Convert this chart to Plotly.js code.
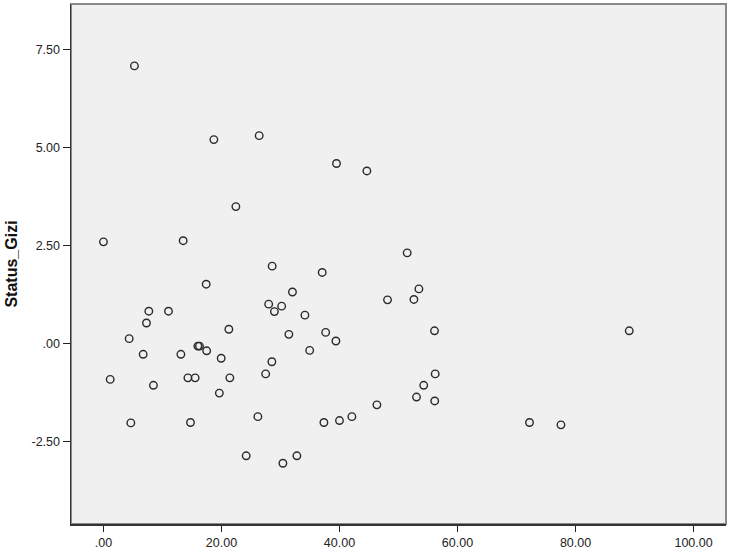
<!DOCTYPE html>
<html>
<head>
<meta charset="utf-8">
<script src="https://cdn.plot.ly/plotly-3.0.1.min.js"></script>
<style>html,body{margin:0;padding:0;background:#fff;}#chart{width:735px;height:552px;}</style>
</head>
<body>
<div id="chart"></div>
<script>
// X values (unnamed predictor, 0-100 scale)
const xValues = [
  5.25, 18.71, 26.39, 39.49, 44.64, 22.44, 0.00, 13.51, 28.59, 37.07,
  51.47, 17.41, 32.03, 48.14, 52.61, 53.46, 7.69, 11.02, 28.00, 30.20,
  28.97, 34.14, 7.29, 4.36, 21.25, 31.42, 37.66, 39.39, 56.10, 89.10,
  6.73, 13.12, 16.00, 16.27, 17.49, 19.95, 34.95, 28.54, 27.49, 56.22,
  54.27, 53.05, 56.14, 1.14, 8.47, 14.31, 15.54, 21.42, 19.64, 4.64,
  14.75, 26.17, 37.36, 40.00, 42.10, 46.34, 72.20, 77.53, 24.19, 30.41,
  32.78
];
// Status_Gizi values
const statusGizi = [
  7.08, 5.20, 5.30, 4.59, 4.40, 3.49, 2.59, 2.62, 1.97, 1.81,
  2.31, 1.51, 1.31, 1.11, 1.12, 1.39, 0.82, 0.82, 1.00, 0.95,
  0.81, 0.72, 0.52, 0.12, 0.36, 0.23, 0.28, 0.06, 0.32, 0.32,
  -0.28, -0.28, -0.07, -0.07, -0.19, -0.38, -0.18, -0.47, -0.78, -0.78,
  -1.07, -1.37, -1.47, -0.92, -1.07, -0.88, -0.88, -0.88, -1.27, -2.03,
  -2.02, -1.87, -2.02, -1.97, -1.87, -1.57, -2.02, -2.08, -2.87, -3.06,
  -2.87
];
// Tick values and labels
const xTickVals = [0, 20, 40, 60, 80, 100];
const xTickText = [".00", "20.00", "40.00", "60.00", "80.00", "100.00"];
const yTickVals = [-2.5, 0, 2.5, 5, 7.5];
const yTickText = ["-2.50", ".00", "2.50", "5.00", "7.50"];
const yTitle = "Status_Gizi";

const trace = {
  x: xValues,
  y: statusGizi,
  type: "scatter",
  mode: "markers",
  marker: {
    symbol: "circle-open",
    size: 7.5,
    color: "#2a2a2a",
    line: { width: 1.4, color: "#2a2a2a" }
  },
  hoverinfo: "x+y",
  showlegend: false
};

const tickFont = { family: "Liberation Sans, Arial, sans-serif", size: 12.5, color: "#222" };

const layout = {
  width: 735,
  height: 552,
  margin: { l: 71, r: 9, t: 4, b: 28, pad: 0 },
  paper_bgcolor: "#ffffff",
  plot_bgcolor: "#f0f0f0",
  showlegend: false,
  xaxis: {
    range: [-5.5, 105.5],
    tickvals: xTickVals,
    ticktext: xTickText,
    ticks: "outside",
    ticklen: 6,
    tickwidth: 1.3,
    tickcolor: "#222",
    showgrid: false,
    zeroline: false,
    showline: true,
    linecolor: "#333",
    linewidth: 1.5,
    tickfont: tickFont
  },
  yaxis: {
    range: [-4.61, 8.66],
    tickvals: yTickVals,
    ticktext: yTickText,
    ticks: "outside",
    ticklen: 7,
    tickwidth: 1.3,
    tickcolor: "#222",
    showgrid: false,
    zeroline: false,
    showline: true,
    linecolor: "#333",
    linewidth: 1.5,
    tickfont: tickFont,
    title: {
      text: "<b>" + yTitle + "</b>",
      font: { family: "Liberation Sans, Arial, sans-serif", size: 16, color: "#111" },
      standoff: 10
    }
  },
  shapes: [{
    type: "rect", xref: "paper", yref: "paper",
    x0: 0, x1: 1, y0: 0, y1: 1,
    line: { color: "#8a8a8a", width: 2 },
    layer: "below"
  }]
};

Plotly.newPlot("chart", [trace], layout, { displayModeBar: false, staticPlot: true });
</script>
</body>
</html>
